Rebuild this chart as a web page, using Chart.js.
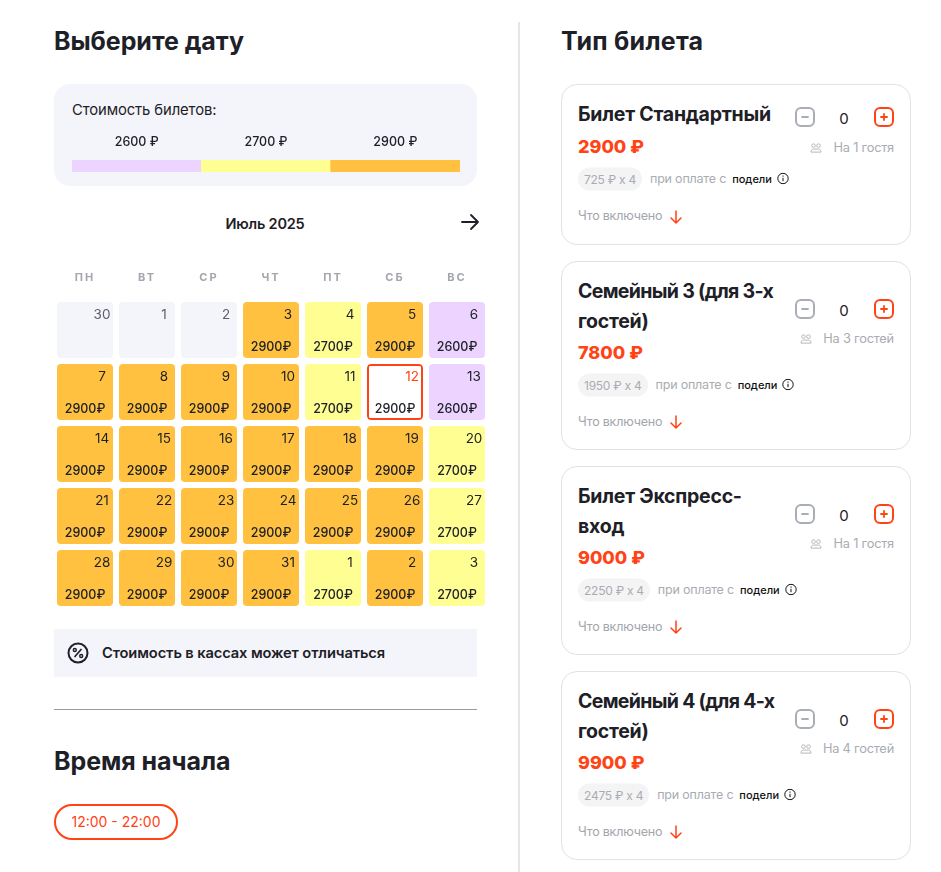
<!DOCTYPE html>
<html lang="ru">
<head>
<meta charset="utf-8">
<title>Выберите дату</title>
<script src="https://cdn.jsdelivr.net/npm/chart.js@4"></script>
<style>
    * { box-sizing: border-box; }
    body { margin: 0; width: 941px; height: 872px; background: #fff; overflow: hidden; position: relative;
           font-family: Inter, "Noto Sans", sans-serif; color: #1d2026; }
    .abs { position: absolute; white-space: nowrap; }
    .mid { transform: translateY(-50%); }
    h2 { margin: 0; font-size: 25px; font-weight: 700; letter-spacing: -0.05px; }
    .panel { background: #f4f5fa; }
    canvas { position: absolute; }
    .card { position: absolute; left: 561px; width: 350px; background: #fff; border: 1px solid #e1e2e7; border-radius: 16px; }
    .card .abs { line-height: 1; }
    .title { left: 16px; font-size: 19.5px; font-weight: 700; letter-spacing: -0.25px; }
    .title.tight { letter-spacing: -0.68px; }
    .price { left: 16px; font-size: 18px; font-weight: 800; color: #ff4314; }
    .row { left: 16px; display: flex; align-items: center; font-size: 12.5px; color: #a9acb3; letter-spacing: -0.2px; }
    .pill { background: #f4f4f5; border-radius: 12px; height: 23px; line-height: 23px; padding: 0 6px; margin-right: 8px; color: #a9acb3; font-size: 12px; letter-spacing: -0.25px; }
    .podeli { font-size: 11px; font-weight: 500; color: #111; margin: 0 5px 0 6px; letter-spacing: 0; }
    .incl { left: 16px; font-size: 12.5px; color: #a3a6ad; letter-spacing: -0.2px; display: flex; align-items: center; }
    .btn { width: 20px; height: 20px; border: 2px solid #a9adb5; border-radius: 6px; left: 233px; }
    .btn.plus { left: 312px; border-color: #ff4314; }
    .qty { left: 272px; width: 20px; text-align: center; font-size: 15px; color: #1d2026; }
    .guests { right: 16px; font-size: 12.8px; color: #a9acb3; letter-spacing: -0.2px; display: flex; align-items: center; gap: 11px; }
</style>
</head>
<body>
    <div class="abs mid" style="left:54px;top:41px"><h2>Выберите дату</h2></div>
    <div class="abs panel" style="left:54px;top:84px;width:423px;height:102px;border-radius:16px"></div>
    <div class="abs mid" style="left:72px;top:109.500px;font-size:14.8px;letter-spacing:-0.1px">Стоимость билетов:</div>
    <canvas id="priceChart" width="388" height="44" style="left:72px;top:128px;width:388px;height:44px"></canvas>

    <div class="abs mid" style="left:165px;width:200px;text-align:center;top:223px;font-size:14.5px;font-weight:600;letter-spacing:-0.2px">Июль 2025</div>
    <svg class="abs" style="left:460px;top:212px" width="20" height="20" viewBox="0 0 20 20" fill="none" stroke="#1d2026" stroke-width="1.8" stroke-linecap="round" stroke-linejoin="round"><path d="M2 10h16M11 3l7 7-7 7"/></svg>

    <canvas id="calendarChart" width="434" height="347" style="left:54px;top:262px;width:434px;height:347px"></canvas>

    <div class="abs panel" style="left:54px;top:629px;width:423px;height:48px"></div>
    <svg class="abs" style="left:67px;top:642px" width="22" height="22" viewBox="0 0 22 22" fill="none" stroke="#1d2026" stroke-width="2"><circle cx="11" cy="11" r="9.5"/><path d="M14.5 7l-7 8" stroke-width="1.6"/><circle cx="7.8" cy="8" r="1.5" stroke-width="1.4"/><circle cx="14.2" cy="14" r="1.5" stroke-width="1.4"/></svg>
    <div class="abs mid" style="left:102px;top:653px;font-size:14.7px;font-weight:600;letter-spacing:-0.12px">Стоимость в кассах может отличаться</div>

    <div class="abs" style="left:54px;top:709px;width:423px;height:1px;background:#9b9b9f"></div>
    <div class="abs mid" style="left:54px;top:761px"><h2>Время начала</h2></div>
    <div class="abs" style="left:54px;top:804px;width:124px;height:36px;border:2px solid #ff4314;border-radius:18px;color:#ff4314;font-size:14px;line-height:32px;text-align:center">12:00 - 22:00</div>

    <div class="abs" style="left:518px;top:22px;width:2px;height:850px;background:#e6e6e8"></div>
    <div class="abs mid" style="left:561px;top:41px"><h2 style="letter-spacing:0.25px">Тип билета</h2></div>
    <div id="tickets"></div>

<script>
    // Календарь: недели сверху вниз, дни с понедельника
    const weekdayLabels = ['ПН', 'ВТ', 'СР', 'ЧТ', 'ПТ', 'СБ', 'ВС'];
    const dayNumbers = [
        [30, 1, 2, 3, 4, 5, 6],
        [7, 8, 9, 10, 11, 12, 13],
        [14, 15, 16, 17, 18, 19, 20],
        [21, 22, 23, 24, 25, 26, 27],
        [28, 29, 30, 31, 1, 2, 3]
    ];
    const dayPrices = [
        [null, null, null, 2900, 2700, 2900, 2600],
        [2900, 2900, 2900, 2900, 2700, 2900, 2600],
        [2900, 2900, 2900, 2900, 2900, 2900, 2700],
        [2900, 2900, 2900, 2900, 2900, 2900, 2700],
        [2900, 2900, 2900, 2900, 2700, 2900, 2700]
    ];
    const selectedDay = [1, 5];

    const priceLevels = [2600, 2700, 2900];

    // Билеты
    const ticketTitles = [['Билет Стандартный'], ['Семейный 3 (для 3-х', 'гостей)'], ['Билет Экспресс-', 'вход'], ['Семейный 4 (для 4-х', 'гостей)']];
    const ticketPrices = [2900, 7800, 9000, 9900];
    const ticketParts = [725, 1950, 2250, 2475];
    const ticketGuests = ['На 1 гостя', 'На 3 гостей', 'На 1 гостя', 'На 4 гостей'];

    const levelColors = { 2600: '#edd3ff', 2700: '#fffe93', 2900: '#ffc13f' };
    const emptyColor = '#f4f5fa';
    const accent = '#ff4314';
    const isSelected = (week, day) => week === selectedDay[0] && day === selectedDay[1];

    // Шкала цен
    new Chart(document.getElementById('priceChart'), {
        type: 'bar',
        data: {
            labels: priceLevels.map(p => p + ' ₽'),
            datasets: [{
                data: priceLevels.map(() => 1),
                backgroundColor: priceLevels.map(p => levelColors[p]),
                barPercentage: 1,
                categoryPercentage: 1
            }]
        },
        options: {
            responsive: false,
            animation: false,
            layout: { padding: 0 },
            plugins: { legend: { display: false }, tooltip: { enabled: false } },
            scales: {
                x: {
                    position: 'top',
                    afterFit: scale => { scale.height = 32; },
                    grid: { display: false, drawTicks: false },
                    border: { display: false },
                    ticks: { padding: 10, color: '#1d2026', font: { family: 'Inter', size: 12.5, weight: '500' } }
                },
                y: { display: false, min: 0, max: 1 }
            }
        }
    });

    // Подписи внутри ячеек календаря
    const cellLabels = {
        id: 'cellLabels',
        beforeDraw(chart) {
            chart.ctx.letterSpacing = '2px';
        },
        afterDatasetsDraw(chart) {
            const ctx = chart.ctx;
            ctx.save();
            ctx.letterSpacing = '0px';
            ctx.textBaseline = 'middle';
            ctx.textAlign = 'center';
            chart.data.datasets.forEach((dataset, week) => {
                chart.getDatasetMeta(week).data.forEach((bar, day) => {
                    const top = bar.base < bar.y ? bar.base : bar.y;
                    const price = dayPrices[week][day];
                    ctx.font = '400 13.5px Inter';
                    ctx.fillStyle = isSelected(week, day) ? accent : (price === null ? '#5c5f66' : '#1d2026');
                    ctx.fillText(dayNumbers[week][day], bar.x + 17, top + 12.5);
                    if (price !== null) {
                        ctx.font = '500 12.5px Inter';
                        ctx.fillStyle = '#1d2026';
                        ctx.fillText(price + '₽', bar.x, top + 45.5);
                    }
                });
            });
            ctx.restore();
        }
    };

    new Chart(document.getElementById('calendarChart'), {
        type: 'bar',
        data: {
            labels: weekdayLabels,
            datasets: dayPrices.map((prices, week) => ({
                data: prices.map(() => [week + 3 / 62, week + 59 / 62]),
                backgroundColor: prices.map((p, day) => isSelected(week, day) ? '#fff' : (p === null ? emptyColor : levelColors[p])),
                borderColor: prices.map((p, day) => isSelected(week, day) ? accent : 'rgba(0,0,0,0)'),
                borderWidth: prices.map((p, day) => isSelected(week, day) ? 2 : 0),
                borderSkipped: false,
                borderRadius: 4,
                barPercentage: 1,
                categoryPercentage: 56 / 62,
                grouped: false
            }))
        },
        options: {
            responsive: false,
            animation: false,
            layout: { padding: 0 },
            plugins: { legend: { display: false }, tooltip: { enabled: false } },
            scales: {
                x: {
                    position: 'top',
                    afterFit: scale => { scale.height = 37; },
                    grid: { display: false, drawTicks: false },
                    border: { display: false },
                    ticks: { padding: 15, color: '#a3a6ad', font: { family: 'Inter', size: 11, weight: '700' } }
                },
                y: { display: false, reverse: true, min: 0, max: dayPrices.length }
            }
        },
        plugins: [cellLabels]
    });

    // Карточки билетов
    const guestIcon = '<svg width="12" height="11" viewBox="0 0 12 11" fill="none" stroke="#b4b7bd" stroke-width="1"><circle cx="3.5" cy="3" r="1.8"/><circle cx="8.5" cy="3" r="1.8"/><path d="M1 9.5c0-2 1-3 2.5-3h5c1.500 0 2.500 1 2.500 3z"/></svg>';
    const infoIcon = '<svg width="12" height="12" viewBox="0 0 12 12" fill="none" stroke="#111" stroke-width="1"><circle cx="6" cy="6" r="5.200"/><path d="M6 5.300v3.400M6 3v1.200"/></svg>';
    const downArrow = '<svg style="margin-left:8px" width="12" height="14" viewBox="0 0 12 14" fill="none" stroke="#ff4314" stroke-width="1.500" stroke-linecap="round" stroke-linejoin="round"><path d="M6 1v12M1 8l5 5 5-5"/></svg>';
    const cardTops = [84, 261, 466, 671];
    const cardHeights = [161, 189, 189, 189];

    ticketTitles.forEach((lines, i) => {
        const twoLines = lines.length > 1;
        const titleHtml = lines.map((line, n) =>
            '<div class="abs mid title' + (line.includes('(') ? ' tight' : '') + '" style="top:' + (30 + n * 29.5) + 'px;line-height:1.2">' + line + '</div>').join('');
        const controlsY = twoLines ? 46.5 : 32;
        const guestsY = twoLines ? 77 : 63;
        const priceY = twoLines ? 91 : 62;
        const rowY = twoLines ? 122.5 : 93.5;
        const inclY = twoLines ? 160 : 131.5;
        const card = document.createElement('div');
        card.className = 'card';
        card.style.top = cardTops[i] + 'px';
        card.style.height = cardHeights[i] + 'px';
        card.innerHTML = titleHtml +
            '<div class="abs mid price" style="top:' + priceY + 'px">' + ticketPrices[i] + ' ₽</div>' +
            '<div class="abs mid row" style="top:' + rowY + 'px"><span class="pill">' + ticketParts[i] + ' ₽ x 4</span>при оплате с<span class="podeli">подели</span>' + infoIcon + '</div>' +
            '<div class="abs mid incl" style="top:' + inclY + 'px">Что включено' + downArrow + '</div>' +
            '<svg class="abs mid btn" style="top:' + controlsY + 'px" viewBox="0 0 16 16"><path d="M5 8h6" stroke="#a9adb5" stroke-width="1.800" stroke-linecap="round"/></svg>' +
            '<div class="abs mid qty" style="top:' + (controlsY + 1) + 'px">0</div>' +
            '<svg class="abs mid btn plus" style="top:' + controlsY + 'px" viewBox="0 0 16 16"><path d="M5 8h6M8 5v6" stroke="#ff4314" stroke-width="1.800" stroke-linecap="round"/></svg>' +
            '<div class="abs mid guests" style="top:' + guestsY + 'px">' + guestIcon + '<span>' + ticketGuests[i] + '</span></div>';
        document.getElementById('tickets').appendChild(card);
    });
</script>
</body>
</html>
